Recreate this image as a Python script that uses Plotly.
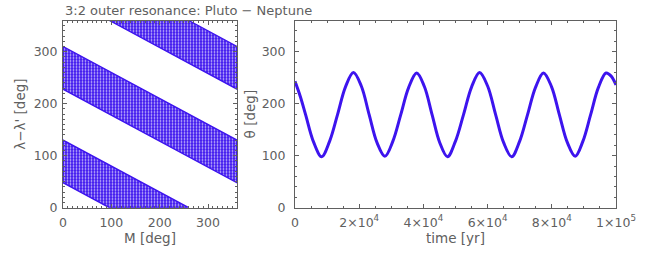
import plotly.graph_objects as go

# ---------------- data ----------------
# Left panel: bands of (M, lambda - lambda') points, given by their outline corners
band_low_M = [0, 0, 260, 96, 0]
band_low_L = [48, 130, 0, 0, 48]
band_mid_M = [0, 0, 360, 360, 0]
band_mid_L = [228, 310, 130, 48, 228]
band_top_M = [96, 260, 360, 360, 96]
band_top_L = [360, 360, 310, 228, 360]

# Right panel: resonant angle theta vs time
time_yr = [0, 1700, 3300, 5800, 8300, 10800, 13250, 15700, 18200, 20650, 23100, 25550,
           28000, 30500, 32950, 35400, 37900, 40300, 42700, 45100,
           47500, 50000, 52500, 55000, 57500, 60000, 62500, 65000,
           67500, 70000, 72450, 74900, 77400, 79900, 82350, 84800,
           87300, 89700, 92100, 94500, 96900, 98500, 100000]
theta_deg = [243, 213, 179, 126, 98, 128, 179, 232, 260, 234, 179, 125,
             99, 128, 179, 231, 259, 233, 179, 125,
             98, 128, 179, 232, 260, 234, 179, 125,
             98, 128, 179, 231, 259, 233, 179, 126,
             99, 128, 179, 231, 259, 253, 236]

left_ticks = [0, 100, 200, 300]
time_tickvals = [0, 20000, 40000, 60000, 80000, 100000]
time_ticktext = ["0", "2×10<sup>4</sup>", "4×10<sup>4</sup>", "6×10<sup>4</sup>",
                 "8×10<sup>4</sup>", "1×10<sup>5</sup>"]

# ---------------- style ----------------
BLUE = "#3d14ee"
GRAY = "#606060"
FONT = "DejaVu Sans"

fig = go.Figure()

for mx, ly in [(band_low_M, band_low_L), (band_mid_M, band_mid_L), (band_top_M, band_top_L)]:
    fig.add_trace(go.Scatter(
        x=mx, y=ly, mode="lines", fill="toself",
        line=dict(color=BLUE, width=1.4),
        fillcolor=BLUE,
        fillpattern=dict(shape=".", bgcolor=BLUE, fgcolor="white",
                         fgopacity=0.75, size=3, solidity=0.3),
        xaxis="x", yaxis="y", showlegend=False, hoverinfo="skip"))

fig.add_trace(go.Scatter(
    x=time_yr, y=theta_deg, mode="lines",
    line=dict(color=BLUE, width=3.0, shape="spline", smoothing=1.0),
    xaxis="x2", yaxis="y2", showlegend=False))

W, H = 656, 253
xl0, xl1 = 63, 237
xr0, xr1 = 295, 616
yt, yb = 20.5, 207.7

axis_common = dict(
    showline=True, linecolor=GRAY, linewidth=1, mirror="ticks",
    ticks="inside", ticklen=4, tickcolor=GRAY, tickwidth=1,
    showgrid=False, zeroline=False, automargin=False,
    tickfont=dict(family=FONT, size=12.5, color=GRAY),
    title_font=dict(family=FONT, size=13.5, color=GRAY),
)

fig.update_layout(
    width=W, height=H,
    margin=dict(l=0, r=0, t=0, b=0),
    paper_bgcolor="white", plot_bgcolor="white",
    xaxis=dict(domain=[xl0 / W, xl1 / W], range=[0, 360],
               tickvals=left_ticks, anchor="y", ticklabelstandoff=3,
               minor=dict(ticks="inside", dtick=10, ticklen=2, tickcolor=GRAY, showgrid=False),
               title=dict(text="M [deg]", standoff=3), **axis_common),
    yaxis=dict(domain=[1 - yb / H, 1 - yt / H], range=[0, 360],
               tickvals=left_ticks, anchor="x", ticklabelstandoff=2,
               minor=dict(ticks="inside", dtick=10, ticklen=2, tickcolor=GRAY, showgrid=False),
               title=dict(text="λ−λ' [deg]", standoff=4), **axis_common),
    xaxis2=dict(domain=[xr0 / W, xr1 / W], range=[0, 100000],
                tickvals=time_tickvals, ticktext=time_ticktext, anchor="y2", ticklabelstandoff=3,
                minor=dict(ticks="inside", dtick=5000, ticklen=2, tickcolor=GRAY, showgrid=False),
                title=dict(text="time [yr]", standoff=3), **axis_common),
    yaxis2=dict(domain=[1 - yb / H, 1 - yt / H], range=[0, 360],
                tickvals=left_ticks, anchor="x2", ticklabelstandoff=6,
                minor=dict(ticks="inside", dtick=20, ticklen=2, tickcolor=GRAY, showgrid=False),
                title=dict(text="θ [deg]", standoff=2), **axis_common),
    annotations=[dict(text="3:2 outer resonance: Pluto − Neptune",
                      xref="paper", yref="paper", x=xl0 / W, y=1 - 11 / H,
                      xanchor="left", yanchor="middle", showarrow=False,
                      font=dict(family=FONT, size=13, color=GRAY))],
)

fig.write_html("out.html", config={"displayModeBar": False},
               post_script="document.body.style.margin='0';")
